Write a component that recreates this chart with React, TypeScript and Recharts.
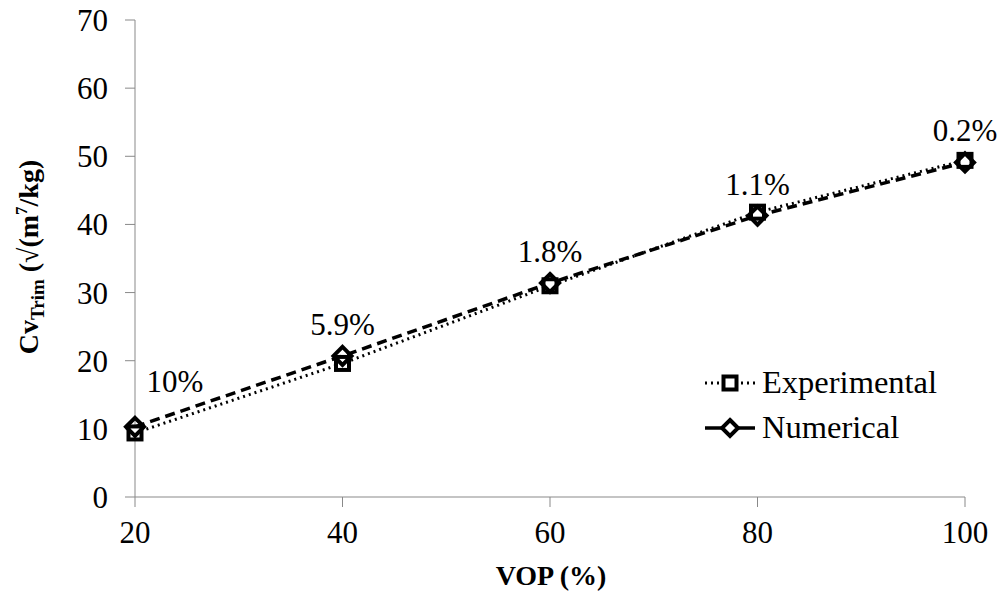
import React from 'react';
import { LineChart, Line, XAxis, YAxis, LabelList } from 'recharts';

const vop = [20, 40, 60, 80, 100];
const experimental = [9.4, 19.6, 31.0, 41.8, 49.4];
const numerical = [10.3, 20.7, 31.4, 41.3, 49.1];
const errorLabels = ['10%', '5.9%', '1.8%', '1.1%', '0.2%'];
const xTicks = [20, 40, 60, 80, 100];
const yTicks = [0, 10, 20, 30, 40, 50, 60, 70];

const data = vop.map((v, i) => ({
  vop: v,
  experimental: experimental[i],
  numerical: numerical[i],
  label: errorLabels[i],
}));

const FONT = '"Liberation Serif", "Times New Roman", serif';

const SquareDot = (props: any) => {
  const { cx, cy } = props;
  if (cx == null || cy == null) return null;
  return <rect x={cx - 6.5} y={cy - 6.5} width={13} height={13} fill="#fff" stroke="#000" strokeWidth={4} />;
};

const DiamondDot = (props: any) => {
  const { cx, cy } = props;
  if (cx == null || cy == null) return null;
  const r = 9;
  return (
    <polygon
      points={`${cx},${cy - r} ${cx + r},${cy} ${cx},${cy + r} ${cx - r},${cy}`}
      fill="none"
      stroke="#000"
      strokeWidth={4}
    />
  );
};

const PctLabel = (props: any) => {
  const { x, y, value, index } = props;
  const dx = index === 0 ? 40 : 0;
  const dy = index === 0 ? -35 : -21;
  return (
    <text x={x + dx} y={y + dy} textAnchor="middle" fontFamily={FONT} fontSize={31} fill="#000">
      {value}
    </text>
  );
};

const YLabel = () => {
  const cx = 38;
  const cy = 257;
  return (
    <text
      x={cx}
      y={cy}
      transform={`rotate(-90, ${cx}, ${cy})`}
      textAnchor="middle"
      fontFamily={FONT}
      fontWeight="bold"
      fontSize={28}
      fill="#000"
    >
      <tspan>Cv</tspan>
      <tspan fontSize={19} dy={6}>Trim</tspan>
      <tspan dy={-6}> (√(m</tspan>
      <tspan fontSize={17} dy={-11}>7</tspan>
      <tspan dy={11}>/kg)</tspan>
    </text>
  );
};

const XLabel = () => (
  <text x={551} y={585} textAnchor="middle" fontFamily={FONT} fontWeight="bold" fontSize={28} fill="#000">
    VOP (%)
  </text>
);

const legendRow: React.CSSProperties = {
  display: 'flex',
  alignItems: 'center',
  height: 45,
  whiteSpace: 'nowrap',
};

const ChartLegend = () => (
  <div
    style={{
      position: 'absolute',
      left: 703,
      top: 360,
      fontFamily: FONT,
      fontSize: 32.5,
      color: '#000',
      lineHeight: 1,
    }}
  >
    <div style={legendRow}>
      <svg width={54} height={22}>
        <line x1={2} y1={11} x2={52} y2={11} stroke="#000" strokeWidth={3} strokeDasharray="2 4" />
        <rect x={20.5} y={4.5} width={13} height={13} fill="#fff" stroke="#000" strokeWidth={4} />
      </svg>
      <span style={{ marginLeft: 5 }}>Experimental</span>
    </div>
    <div style={legendRow}>
      <svg width={54} height={22}>
        <line x1={2} y1={11} x2={52} y2={11} stroke="#000" strokeWidth={3.5} />
        <polygon points="27,3 35,11 27,19 19,11" fill="#fff" stroke="#000" strokeWidth={4} />
      </svg>
      <span style={{ marginLeft: 5 }}>Numerical</span>
    </div>
  </div>
);

export default function App() {
  return (
    <div style={{ position: 'absolute', left: 0, top: 0, width: 1001, height: 596, background: '#fff' }}>
      <LineChart width={1001} height={596} data={data} margin={{ top: 20, right: 36, left: 60, bottom: 39 }}>
        <XAxis
          dataKey="vop"
          type="number"
          domain={[20, 100]}
          ticks={xTicks}
          height={60}
          stroke="#898989"
          tickSize={10}
          tickMargin={14}
          tick={{ fill: '#000', fontFamily: FONT, fontSize: 31 }}
          label={<XLabel />}
        />
        <YAxis
          type="number"
          domain={[0, 70]}
          ticks={yTicks}
          width={75}
          stroke="#898989"
          tickSize={10}
          tickMargin={17}
          tick={{ fill: '#000', fontFamily: FONT, fontSize: 31 }}
          label={<YLabel />}
        />
        <Line
          dataKey="experimental"
          name="Experimental"
          stroke="#000"
          strokeWidth={3}
          strokeDasharray="2 4"
          dot={<SquareDot />}
          isAnimationActive={false}
        />
        <Line
          dataKey="numerical"
          name="Numerical"
          stroke="#000"
          strokeWidth={3.5}
          strokeDasharray="10 6"
          dot={<DiamondDot />}
          isAnimationActive={false}
        >
          <LabelList dataKey="label" content={<PctLabel />} />
        </Line>
      </LineChart>
      <ChartLegend />
    </div>
  );
}
